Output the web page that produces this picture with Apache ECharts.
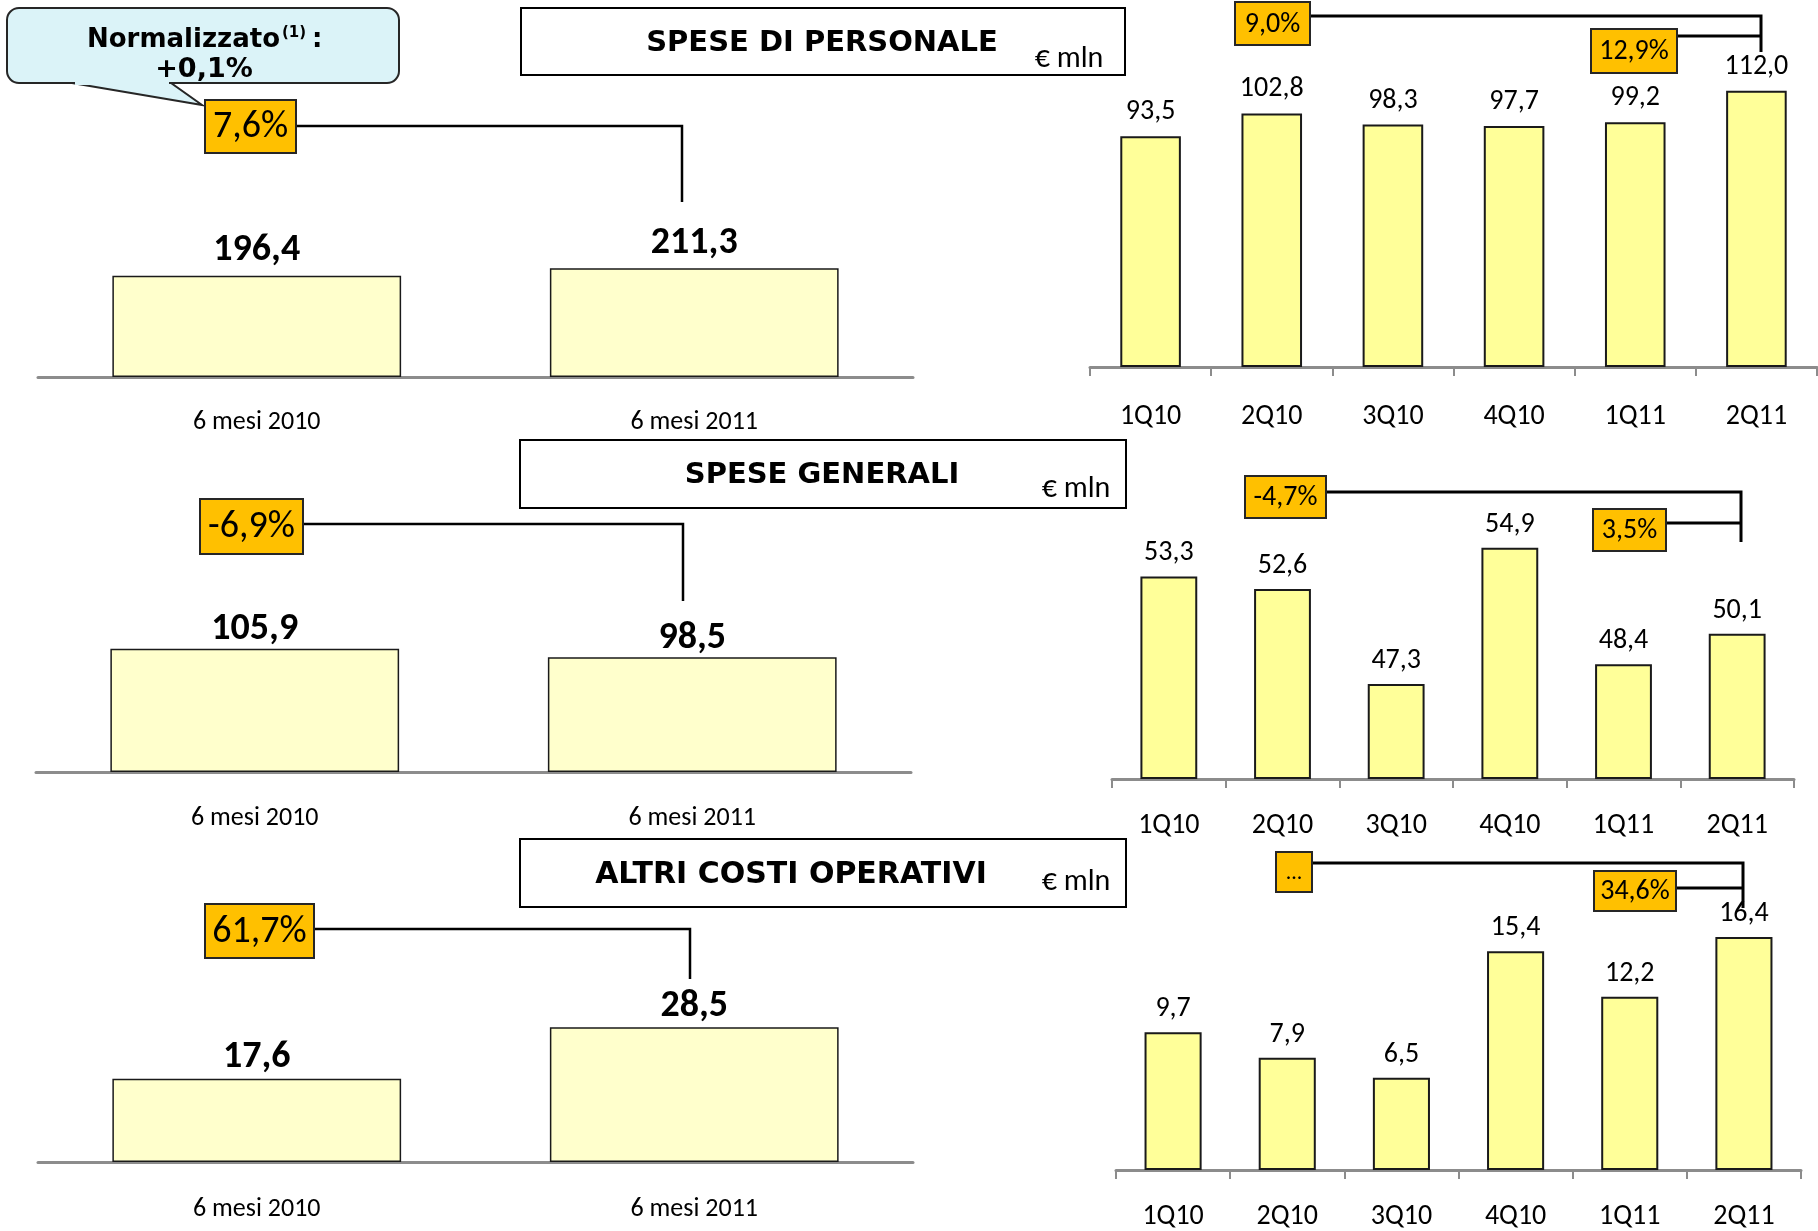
<!DOCTYPE html>
<html><head><meta charset="utf-8">
<script src="https://cdn.jsdelivr.net/npm/echarts@6/dist/echarts.min.js"></script>
<style>html,body{margin:0;padding:0;background:#fff}#c{width:1818px;height:1231px}</style>
</head><body><div id="c"></div><script>
// ---------- DATA ----------
const halfCategories = ['6 mesi 2010', '6 mesi 2011'];
const quarterCategories = ['1Q10', '2Q10', '3Q10', '4Q10', '1Q11', '2Q11'];
const personaleHalf = [196.4, 211.3];
const personaleQuarter = [93.5, 102.8, 98.3, 97.7, 99.2, 112.0];
const generaliHalf = [105.9, 98.5];
const generaliQuarter = [53.3, 52.6, 47.3, 54.9, 48.4, 50.1];
const altriHalf = [17.6, 28.5];
const altriQuarter = [9.7, 7.9, 6.5, 15.4, 12.2, 16.4];
const panelTitles = ['SPESE DI PERSONALE', 'SPESE GENERALI', 'ALTRI COSTI OPERATIVI'];
const unitLabel = '€ mln';
const halfGrowth = ['7,6%', '-6,9%', '61,7%'];
const yoyGrowth = ['9,0%', '-4,7%', '...'];
const qoqGrowth = ['12,9%', '3,5%', '34,6%'];
const noteWord = 'Normalizzato';
const noteRef = '(1)';
const noteValue = '+0,1%';

// ---------- LAYOUT ----------
const NUM_FONT = 'Carlito, Lato, sans-serif';
const HEAD_FONT = '"DejaVu Sans", Verdana, sans-serif';
const fmt = v => v.toFixed(1).replace('.', ',');

const halfSeries = [personaleHalf, generaliHalf, altriHalf];
const quarterSeries = [personaleQuarter, generaliQuarter, altriQuarter];

const halfLayout = [
  {left: 38, top: 171, width: 875, height: 206, min: 0, max: 400, dist: 6, margin: 32},
  {left: 36, top: 539, width: 875, height: 233, min: 0, max: 200, dist: 0, margin: 33},
  {left: 38, top: 973, width: 875, height: 189, min: 0, max: 40, dist: 2, margin: 34}
];
const quarterLayout = [
  {left: 1090, top: 71, width: 727, height: 296, min: 0, max: 120, dist: 10, margin: 36},
  {left: 1112, top: 528, width: 682, height: 251, min: 42, max: 56, dist: 9, margin: 33},
  {left: 1116, top: 886, width: 685, height: 288, min: 0, max: 20, dist: 9, margin: 33}
];

const grid = [], xAxis = [], yAxis = [], series = [];
function addPanel(layout, cats, values, isHalf) {
  const i = grid.length;
  grid.push({left: layout.left, top: layout.top, width: layout.width, height: layout.height});
  xAxis.push({
    type: 'category', gridIndex: i, data: cats,
    axisLine: {show: true, lineStyle: {color: '#8c8c8c', width: 3}},
    axisTick: {show: !isHalf, length: 9, lineStyle: {color: '#8c8c8c', width: 2}},
    axisLabel: {color: '#000', fontSize: isHalf ? 26 : 28, fontFamily: NUM_FONT, margin: layout.margin}
  });
  yAxis.push({type: 'value', gridIndex: i, min: layout.min, max: layout.max, startValue: layout.min, show: false});
  series.push({
    type: 'bar', xAxisIndex: i, yAxisIndex: i, data: values,
    barWidth: isHalf ? '66%' : '50%',
    itemStyle: {color: isHalf ? '#FFFFCC' : '#FFFF99', borderColor: '#1a1a1a', borderWidth: isHalf ? 1.5 : 2},
    label: {
      show: true, position: 'top', distance: layout.dist,
      formatter: p => fmt(p.value), color: '#000',
      fontFamily: NUM_FONT, fontSize: isHalf ? 38 : 28, fontWeight: isHalf ? 'bold' : 'normal'
    },
    silent: true
  });
}
for (let k = 0; k < 3; k++) {
  addPanel(halfLayout[k], halfCategories, halfSeries[k], true);
  addPanel(quarterLayout[k], quarterCategories, quarterSeries[k], false);
}

// ---------- ANNOTATIONS ----------
const graphic = [];
const Z = 100;
function textEl(x, y, text, font, align) {
  graphic.push({type: 'text', x, y, z: Z + 2, style: {text, font, fill: '#000', textAlign: align || 'center', textVerticalAlign: 'middle'}});
}
function badge(b, text, size) {
  graphic.push({type: 'rect', z: Z, shape: {x: b.x, y: b.y, width: b.w, height: b.h}, style: {fill: '#FFC000', stroke: '#262626', lineWidth: 2}});
  textEl(b.x + b.w / 2, b.y + b.h / 2 + 1, text, size + 'px ' + NUM_FONT);
}
function connector(pts, w) {
  graphic.push({type: 'polyline', z: Z, shape: {points: pts}, style: {stroke: '#000', lineWidth: w, fill: null}});
}

const titleBoxes = [
  {x: 521, y: 8, w: 604, h: 67, tx: 822, ty: 43, ux: 1069, uy: 59, fs: 29},
  {x: 520, y: 440, w: 606, h: 68, tx: 822, ty: 475, ux: 1076, uy: 489, fs: 29},
  {x: 520, y: 839, w: 606, h: 68, tx: 791, ty: 875, ux: 1076, uy: 882, fs: 30}
];
titleBoxes.forEach((b, k) => {
  graphic.push({type: 'rect', z: Z, shape: {x: b.x, y: b.y, width: b.w, height: b.h}, style: {fill: '#fff', stroke: '#000', lineWidth: 2}});
  textEl(b.tx, b.ty, panelTitles[k], 'bold ' + b.fs + 'px ' + HEAD_FONT);
  textEl(b.ux, b.uy, unitLabel, '30px ' + NUM_FONT);
});

const halfBadges = [{x: 205, y: 100, w: 91, h: 53}, {x: 200, y: 499, w: 103, h: 55}, {x: 205, y: 904, w: 109, h: 54}];
const halfLinks = [[[296, 126], [682, 126], [682, 202]], [[303, 524], [683, 524], [683, 601]], [[314, 929], [690, 929], [690, 979]]];
const yoyBadges = [{x: 1235, y: 2, w: 75, h: 43}, {x: 1245, y: 476, w: 81, h: 42}, {x: 1276, y: 852, w: 36, h: 40}];
const yoyLinks = [[[1310, 16], [1761, 16], [1761, 52]], [[1326, 492], [1741, 492], [1741, 542]], [[1312, 863], [1743, 863], [1743, 908]]];
const qoqBadges = [{x: 1591, y: 29, w: 86, h: 44}, {x: 1593, y: 509, w: 73, h: 42}, {x: 1594, y: 871, w: 82, h: 40}];
const qoqLinks = [[[1677, 36], [1761, 36]], [[1666, 523], [1741, 523]], [[1676, 888], [1743, 888]]];

for (let k = 0; k < 3; k++) {
  connector(halfLinks[k], 2.5);
  connector(yoyLinks[k], 3);
  connector(qoqLinks[k], 3);
  badge(halfBadges[k], halfGrowth[k], 38);
  badge(yoyBadges[k], yoyGrowth[k], k === 2 ? 22 : 28);
  badge(qoqBadges[k], qoqGrowth[k], 28);
}

// callout
const calloutFill = '#DBF3F8';
graphic.push({type: 'rect', z: Z, shape: {x: 7, y: 8, width: 392, height: 75, r: 12}, style: {fill: calloutFill, stroke: '#262626', lineWidth: 2}});
graphic.push({type: 'polygon', z: Z, shape: {points: [[72, 83], [202, 105], [171, 83]]}, style: {fill: calloutFill, stroke: '#262626', lineWidth: 2}});
graphic.push({type: 'rect', z: Z + 1, shape: {x: 75, y: 80, width: 94, height: 5}, style: {fill: calloutFill}});
textEl(280, 40, noteWord, 'bold 26px ' + HEAD_FONT, 'right');
textEl(282, 33, noteRef, 'bold 15px ' + HEAD_FONT, 'left');
textEl(312, 40, ':', 'bold 26px ' + HEAD_FONT, 'left');
textEl(204, 70, noteValue, 'bold 27px ' + HEAD_FONT);

const chart = echarts.init(document.getElementById('c'), null, {renderer: 'canvas'});
chart.setOption({
  backgroundColor: '#fff',
  animation: false,
  grid, xAxis, yAxis, series, graphic
});
</script></body></html>
